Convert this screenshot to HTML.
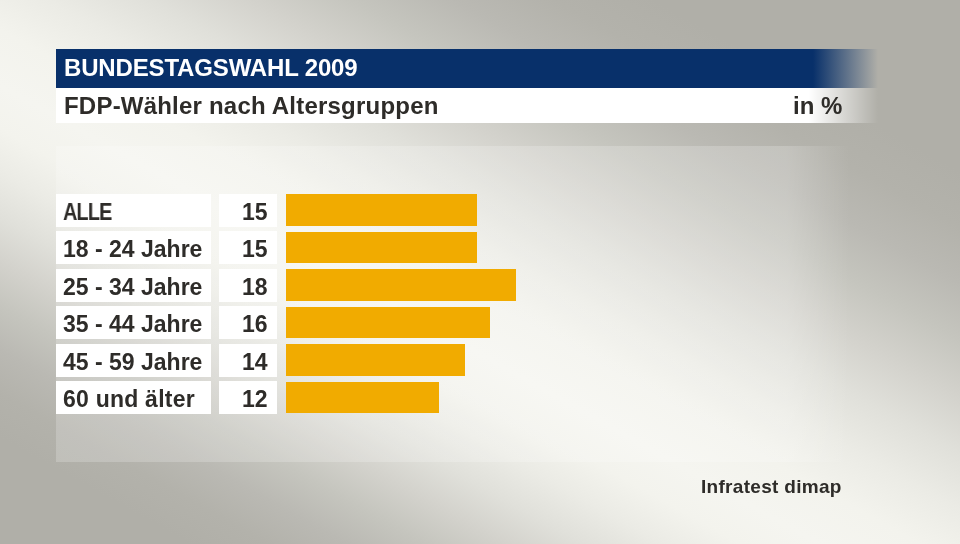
<!DOCTYPE html>
<html><head><meta charset="utf-8">
<style>
html,body{margin:0;padding:0;}
body{width:960px;height:544px;overflow:hidden;position:relative;
 font-family:"Liberation Sans",sans-serif;font-weight:bold;color:#2e2c29;
 background:linear-gradient(29.23deg,rgb(176,175,168) 0.00%,rgb(176,175,168) 9.85%,rgb(179,178,171) 13.92%,rgb(186,185,179) 17.99%,rgb(197,197,190) 22.06%,rgb(211,210,204) 26.13%,rgb(224,224,218) 30.20%,rgb(235,235,229) 34.27%,rgb(243,243,237) 38.34%,rgb(245,245,240) 42.41%,rgb(243,243,237) 47.63%,rgb(235,235,229) 52.85%,rgb(224,224,218) 58.07%,rgb(211,210,204) 63.29%,rgb(197,197,190) 68.51%,rgb(186,185,179) 73.73%,rgb(179,178,171) 78.95%,rgb(176,175,168) 84.17%,rgb(176,175,168) 100.00%);}
.abs{position:absolute;}
#panel{left:56px;top:145.5px;width:800px;height:316.5px;
 background:linear-gradient(to right,rgba(255,255,255,.2) 0,rgba(255,255,255,.2) 731px,rgba(255,255,255,0) 794px);}
#title{left:56px;top:49px;width:824px;height:39px;
 background:linear-gradient(to right,#08306a 0,#08306a 757px,rgba(8,48,106,0) 822px);}
#sub{left:56px;top:88px;width:824px;height:34.5px;
 background:linear-gradient(to right,#fff 0,#fff 753px,rgba(255,255,255,0) 822px);}
.t{position:absolute;white-space:nowrap;line-height:1;will-change:transform;}
.lb{position:absolute;left:56px;width:155px;height:33.3px;background:#fff;}
.vb{position:absolute;left:219px;width:58px;height:33.3px;background:#fff;}
.bar{position:absolute;left:285.6px;height:31.7px;background:#f1ab00;}
</style></head><body>
<div id="panel" class="abs"></div>
<div id="title" class="abs"></div>
<div id="sub" class="abs"></div>
<div class="t" style="left:64px;top:56px;font-size:24px;color:#fff;letter-spacing:-0.16px;">BUNDESTAGSWAHL 2009</div>
<div class="t" style="left:64px;top:93.5px;font-size:24px;letter-spacing:0.21px;">FDP-Wähler nach Altersgruppen</div>
<div class="t" style="left:793px;top:94px;font-size:24px;">in %</div>

<div class="lb" style="top:193.5px"></div><div class="vb" style="top:193.5px"></div><div class="bar" style="top:194.2px;width:191.7px"></div>
<div class="lb" style="top:231px"></div><div class="vb" style="top:231px"></div><div class="bar" style="top:231.7px;width:191.7px"></div>
<div class="lb" style="top:268.5px"></div><div class="vb" style="top:268.5px"></div><div class="bar" style="top:269.2px;width:230.3px"></div>
<div class="lb" style="top:306px"></div><div class="vb" style="top:306px"></div><div class="bar" style="top:306.7px;width:204.6px"></div>
<div class="lb" style="top:343.5px"></div><div class="vb" style="top:343.5px"></div><div class="bar" style="top:344.2px;width:179px"></div>
<div class="lb" style="top:381px"></div><div class="vb" style="top:381px"></div><div class="bar" style="top:381.7px;width:153.4px"></div>

<div class="t" style="left:63px;top:200.5px;font-size:23px;letter-spacing:-1px;transform:scaleX(0.865);transform-origin:0 0;">ALLE</div>
<div class="t" style="left:63px;top:238px;font-size:23px;">18 - 24 Jahre</div>
<div class="t" style="left:63px;top:275.5px;font-size:23px;">25 - 34 Jahre</div>
<div class="t" style="left:63px;top:313px;font-size:23px;">35 - 44 Jahre</div>
<div class="t" style="left:63px;top:350.5px;font-size:23px;">45 - 59 Jahre</div>
<div class="t" style="left:63px;top:388px;font-size:23px;letter-spacing:0.23px;">60 und älter</div>

<div class="t" style="right:692.5px;top:200.5px;font-size:23px;">15</div>
<div class="t" style="right:692.5px;top:238px;font-size:23px;">15</div>
<div class="t" style="right:692.5px;top:275.5px;font-size:23px;">18</div>
<div class="t" style="right:692.5px;top:313px;font-size:23px;">16</div>
<div class="t" style="right:692.5px;top:350.5px;font-size:23px;">14</div>
<div class="t" style="right:692.5px;top:388px;font-size:23px;">12</div>

<div class="t" style="left:701px;top:476.5px;font-size:19px;letter-spacing:0.3px;">Infratest dimap</div>
</body></html>
